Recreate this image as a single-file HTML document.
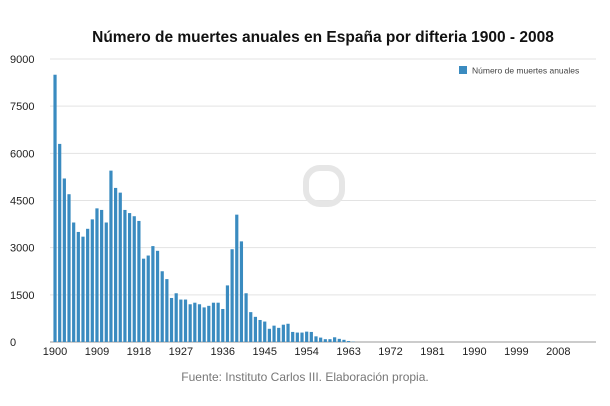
<!DOCTYPE html>
<html><head><meta charset="utf-8"><style>
body{margin:0;background:#fff;font-family:"Liberation Sans",Arial,sans-serif}
svg{display:block}
</style></head><body>
<svg width="610" height="406" viewBox="0 0 610 406">
<text x="323" y="42" text-anchor="middle" font-size="15.5" font-weight="bold" fill="#111">Número de muertes anuales en España por difteria 1900 - 2008</text>
<g>
<rect x="459" y="66" width="8" height="8" fill="#3a8bc0"/>
<text x="472" y="73.5" font-size="8.5" fill="#444">Número de muertes anuales</text>
</g>
<g id="grid"></g>
<g fill="none" stroke="#e6e6e6" stroke-width="6">
<path d="M306 182 a14 14 0 0 1 14-14 h8 a14 14 0 0 1 14 14 v8 a14 14 0 0 1-14 14 h-8 a14 14 0 0 1-14-14z"/>
</g>
<g id="bars"></g>
<g id="xt"></g>
<text x="305" y="381" text-anchor="middle" font-size="12" fill="#777">Fuente: Instituto Carlos III. Elaboración propia.</text>
</svg>
<script>
const startYear=1900;
const values=[8500,6300,5200,4700,3800,3500,3350,3600,3900,4250,4200,3800,5450,4900,4750,4200,4100,4000,3850,2650,2750,3050,2900,2250,2000,1400,1550,1350,1350,1200,1250,1200,1100,1150,1250,1250,1050,1800,2950,4050,3200,1550,950,800,700,650,420,520,450,550,580,320,300,300,330,320,180,140,90,90,150,100,70,30,10];
const yTicks=[0,1500,3000,4500,6000,7500,9000];
const xTicks=[1900,1909,1918,1927,1936,1945,1954,1963,1972,1981,1990,1999,2008];
const NS="http://www.w3.org/2000/svg";
const y0=342,yTop=59,yMax=9000,x0=52.7,slot=4.66;
const ys=v=>y0-v/yMax*(y0-yTop);
const xs=yr=>x0+(yr-startYear)*slot;
const grid=document.getElementById('grid');
yTicks.forEach(t=>{
 const l=document.createElementNS(NS,'line');
 l.setAttribute('x1',50);l.setAttribute('x2',596);l.setAttribute('y1',ys(t));l.setAttribute('y2',ys(t));
 l.setAttribute('stroke',t===0?'#999':'#e3e3e3');l.setAttribute('stroke-width',1);
 
 
 grid.appendChild(l);
 const tx=document.createElementNS(NS,'text');
 tx.setAttribute('x',10);tx.setAttribute('y',ys(t)+4);tx.setAttribute('font-size','11');tx.setAttribute('fill','#222');
 tx.textContent=t;
 
 
 grid.appendChild(tx);
});
const bars=document.getElementById('bars');
values.forEach((v,i)=>{
 const r=document.createElementNS(NS,'rect');
 const cx=xs(startYear+i)+slot/2;
 r.setAttribute('x',cx-1.6);r.setAttribute('width',3.2);
 r.setAttribute('y',ys(v));r.setAttribute('height',y0-ys(v));
 r.setAttribute('fill','#3a8bc0');
 
 
 bars.appendChild(r);
});
const xt=document.getElementById('xt');
xTicks.forEach(t=>{
 const tx=document.createElementNS(NS,'text');
 tx.setAttribute('x',xs(t)+slot/2);tx.setAttribute('y',355);tx.setAttribute('text-anchor','middle');
 tx.setAttribute('font-size','11');tx.setAttribute('fill','#222');
 tx.textContent=t;
 
 
 xt.appendChild(tx);
});
</script>
</body></html>
